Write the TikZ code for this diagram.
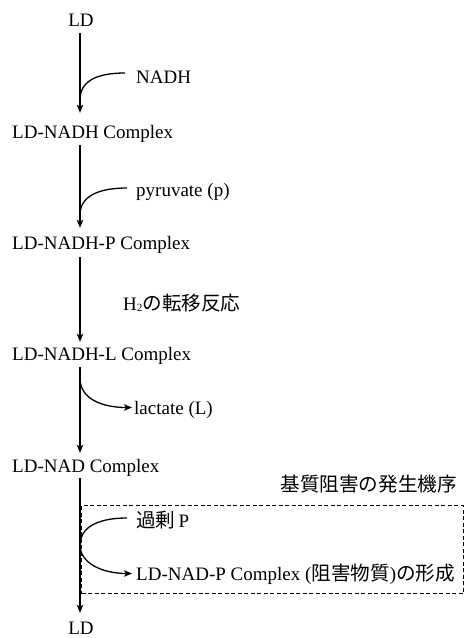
\documentclass[tikz,border=0pt]{standalone}
\usepackage{fontspec}
\setmainfont{Liberation Serif}
\newfontfamily\jpfont{Noto Sans CJK JP}
\usetikzlibrary{arrows.meta}
\newcommand{\jp}[1]{{\jpfont\fontsize{19.6}{20}\selectfont #1}}
\begin{document}
\begin{tikzpicture}[x=1pt,y=-1pt,
  lbl/.style={inner sep=0pt, font=\fontsize{19}{19}\selectfont, text height=13pt, text depth=0pt},
  arr/.style={line width=1.3pt, -{Stealth[length=8pt,width=6.5pt,inset=2pt]}},
  curve/.style={line width=1.3pt},
  boxline/.style={draw, line width=1.2pt, dash pattern=on 4pt off 2.5pt}]
\useasboundingbox (0,0) rectangle (464,638);
\coordinate (vx) at (80,0);
% labels
\node[lbl,anchor=base] (ld0) at (81,26) {LD};
\node[lbl,anchor=base west] (nadh) at (136,83) {NADH};
\node[lbl,anchor=base west] (c1) at (12,138) {LD-NADH Complex};
\node[lbl,anchor=base west] (pyr) at (136,196) {pyruvate (p)};
\node[lbl,anchor=base west] (c2) at (12,249) {LD-NADH-P Complex};
\node[lbl,anchor=base west] (h2) at (123,310) {H\raisebox{-1pt}{\fontsize{11}{11}\selectfont 2}\jp{の転移反応}};
\node[lbl,anchor=base west] (c3) at (12,360) {LD-NADH-L Complex};
\node[lbl,anchor=base west] (lact) at (134,414) {lactate (L)};
\node[lbl,anchor=base west] (c4) at (12,472) {LD-NAD Complex};
\node[lbl,anchor=base east] (title) at (457,491) {\jp{基質阻害の発生機序}};
\node[lbl,anchor=base west] (exP) at (136,527) {\jp{過剰}\,P};
\node[lbl,anchor=base west] (np) at (136,580) {LD-NAD-P Complex (\jp{阻害物質})\jp{の形成}};
\node[lbl,anchor=base] (ld1) at (81,634) {LD};
% dashed box
\node[boxline, inner sep=0pt, minimum width=381.5pt, minimum height=88pt, anchor=north west] (box) at (81,505) {};
% main chain
\draw[arr, shorten <=7pt, shorten >=12pt] (ld0.south -| vx) -- (c1.north -| vx);
\draw[arr, shorten <=7pt, shorten >=8pt] (c1.south -| vx) -- (c2.north -| vx);
\draw[arr, shorten <=8pt, shorten >=5pt] (c2.south -| vx) -- (c3.north -| vx);
\draw[arr, shorten <=7pt, shorten >=6pt] (c3.south -| vx) -- (c4.north -| vx);
\draw[arr, shorten <=6pt, shorten >=8pt] (c4.south -| vx) -- (ld1.north -| vx);
% junctions
\coordinate (j1) at (80,100);
\coordinate (j2) at (80,215);
\coordinate (j3) at (80,378);
\coordinate (j5) at (80,545);
% side branches
\draw[curve] ([shift={(-11,-3.5)}]nadh.west) .. controls +(-30,0) and +(0,-18) .. (j1);
\draw[curve] ([shift={(-9,-1.5)}]pyr.west) .. controls +(-30,0) and +(0,-18) .. (j2);
\draw[arr] (j3) .. controls +(0,22) and +(-28,0) .. ([xshift=-2pt]lact.west);
\draw[arr] ([shift={(-9,-2.5)}]exP.west) .. controls +(-32,0) and +(0,-16) .. (j5)
  .. controls +(0,18) and +(-30,0) .. ([xshift=-4pt]np.west);
\end{tikzpicture}
\end{document}
